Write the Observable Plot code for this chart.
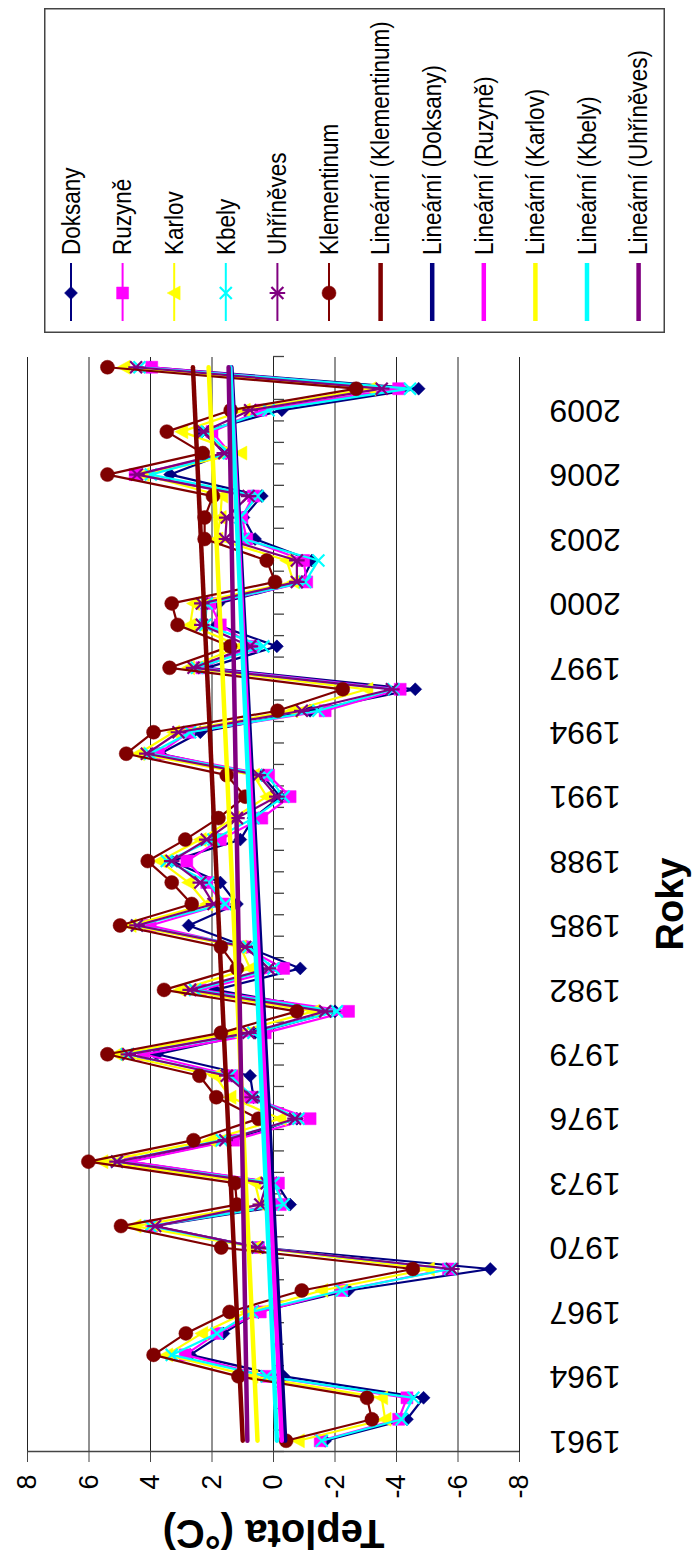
<!DOCTYPE html>
<html>
<head>
<meta charset="utf-8">
<script src="https://cdn.jsdelivr.net/npm/d3@7"></script>
<script src="https://cdn.jsdelivr.net/npm/@observablehq/plot@0.6"></script>
<style>
  html, body { margin: 0; padding: 0; background: #fff; width: 692px; height: 1560px; overflow: hidden; }
  #frame {
    position: absolute; left: 0; top: 0; width: 1560px; height: 692px;
    transform-origin: 0 0; transform: translate(0, 1560px) rotate(-90deg);
    background: #fff; font-family: "Liberation Sans", Arial, sans-serif;
  }
  #legend { position: absolute; }
</style>
</head>
<body>
<div id="frame"></div>
<script>
// Years on the category axis
const years = [1961,1962,1963,1964,1965,1966,1967,1968,1969,1970,
  1971,1972,1973,1974,1975,1976,1977,1978,1979,1980,
  1981,1982,1983,1984,1985,1986,1987,1988,1989,1990,
  1991,1992,1993,1994,1995,1996,1997,1998,1999,2000,
  2001,2002,2003,2004,2005,2006,2007,2008,2009,2010,2011];
const yearLabels = [1961,1964,1967,1970,1973,1976,1979,1982,1985,1988,1991,1994,1997,2000,2003,2006,2009];
const tempTicks = [-8,-6,-4,-2,0,2,4,6,8];

// Station temperatures (°C), 1961–2011
const doksany = [-1.68,-4.34,-4.88,-0.33,2.71,1.63,0.49,-2.44,-7.05,0.45,
  3.90,-0.54,-0.10,4.72,1.41,-0.76,0.65,0.76,3.79,0.60,
  -2.00,1.90,-0.87,0.87,2.76,1.19,1.73,3.31,1.08,0.65,
  -0.22,0.38,3.69,2.38,-1.19,-4.61,2.17,-0.11,1.84,1.79,
  -0.92,-1.25,0.60,0.98,0.38,3.36,1.54,2.33,-0.27,-4.72,4.00];
const ruzyne = [-1.52,-4.07,-4.34,0.22,2.87,1.84,0.43,-2.22,-5.69,0.49,
  3.96,-0.22,-0.16,4.66,1.30,-1.19,0.76,1.30,4.23,0.27,
  -2.44,2.38,-0.33,0.98,4.01,1.63,2.17,2.82,1.73,0.38,
  -0.54,0.16,3.74,2.76,-1.68,-4.12,2.33,0.65,1.73,2.06,
  -1.08,-0.98,0.87,1.03,0.65,4.50,1.41,2.00,0.41,-4.07,3.96];
const karlov = [-0.81,-3.63,-3.52,0.70,3.47,2.33,0.87,-1.57,-5.04,0.60,
  4.50,0.43,0.60,5.58,2.06,-0.22,1.41,1.90,5.09,1.30,
  -1.30,3.04,0.76,1.08,4.66,2.17,2.76,3.69,2.38,1.30,
  0.22,0.65,4.39,3.25,-0.60,-3.04,2.76,1.08,2.71,2.60,
  -0.65,-0.43,1.84,1.73,1.68,4.23,1.06,2.98,0.95,-3.14,4.86];
const kbely = [-1.57,-4.17,-4.55,0.22,3.31,1.84,0.70,-2.22,-5.75,0.50,
  4.01,-0.33,0.00,5.09,1.68,-0.81,0.65,1.41,4.77,0.65,
  -2.06,2.55,0.00,0.81,4.44,1.57,2.11,3.47,1.95,0.65,
  -0.33,0.22,4.01,2.71,-1.46,-3.90,2.49,0.33,2.22,2.17,
  -1.03,-1.46,0.98,1.08,0.52,3.99,1.46,2.17,0.16,-4.44,4.36];
const uhrineves = [null,null,null,null,null,null,null,null,-5.80,0.52,
  3.85,0.43,0.22,5.09,1.57,-0.70,0.70,1.52,4.72,0.81,
  -1.68,2.71,0.16,0.92,4.44,1.95,2.38,3.31,2.17,1.19,
  -0.11,0.49,4.12,3.09,-0.92,-3.85,2.60,0.76,2.33,2.33,
  -0.76,-0.76,1.57,1.52,0.81,4.44,1.60,2.28,0.76,-3.52,4.47];
const klementinum = [-0.41,-3.20,-3.04,1.14,3.90,2.85,1.43,-0.92,-4.53,1.70,
  4.96,1.19,1.25,6.02,2.60,0.49,1.86,2.41,5.40,1.71,
  -0.76,3.56,1.19,1.71,4.99,2.66,3.31,4.09,2.87,1.79,
  0.92,1.52,4.79,3.90,-0.13,-2.25,3.38,1.41,3.12,3.31,
  -0.05,0.22,2.24,2.24,1.97,5.40,2.30,3.47,1.39,-2.69,5.40];

// Linear trend lines: values at the first and last year
const trendYears = [1961, 2011];
const trendKlementinum = [1.00, 2.62];
const trendDoksany = [-0.38, 1.37];
const trendRuzyne = [-0.27, 1.40];
const trendKarlov = [0.52, 2.11];
const trendKbely = [-0.11, 1.41];
const trendUhrineves = [0.85, 1.46];

// Marker shapes drawn like spreadsheet markers
const rOf = size => Math.sqrt(size / Math.PI);
const diamond = {draw(c, s) { const r = rOf(s); c.moveTo(0,-r); c.lineTo(r,0); c.lineTo(0,r); c.lineTo(-r,0); c.closePath(); }};
const square = {draw(c, s) { const r = rOf(s); c.rect(-r,-r,2*r,2*r); }};
const triangle = {draw(c, s) { const r = rOf(s); c.moveTo(0,-r); c.lineTo(r,r*0.85); c.lineTo(-r,r*0.85); c.closePath(); }};
const cross = {draw(c, s) { const r = rOf(s); c.moveTo(-r,-r); c.lineTo(r,r); c.moveTo(-r,r); c.lineTo(r,-r); }};
const star = {draw(c, s) { const r = rOf(s); c.moveTo(-r,-r); c.lineTo(r,r); c.moveTo(-r,r); c.lineTo(r,-r); c.moveTo(0,-r*1.3); c.lineTo(0,r*1.3); }};
const circle = {draw(c, s) { const r = rOf(s); c.moveTo(r,0); c.arc(0,0,r,0,2*Math.PI); }};

const stations = [
  {name: "Doksany", values: doksany, color: "#000080", symbol: diamond, r: 6.5, filled: true},
  {name: "Ruzyně", values: ruzyne, color: "#FF00FF", symbol: square, r: 6, filled: true},
  {name: "Karlov", values: karlov, color: "#FFFF00", symbol: triangle, r: 7, filled: true},
  {name: "Kbely", values: kbely, color: "#00FFFF", symbol: cross, r: 6, filled: false},
  {name: "Uhříněves", values: uhrineves, color: "#800080", symbol: star, r: 6, filled: false},
  {name: "Klementinum", values: klementinum, color: "#800000", symbol: circle, r: 7, filled: true}
];
const trends = [
  {name: "Lineární (Klementinum)", values: trendKlementinum, color: "#800000"},
  {name: "Lineární (Doksany)", values: trendDoksany, color: "#000080"},
  {name: "Lineární (Ruzyně)", values: trendRuzyne, color: "#FF00FF"},
  {name: "Lineární (Karlov)", values: trendKarlov, color: "#FFFF00"},
  {name: "Lineární (Kbely)", values: trendKbely, color: "#00FFFF"},
  {name: "Lineární (Uhříněves)", values: trendUhrineves, color: "#800080"}
];

const W = 1560, H = 692;
const margin = {left: 108, right: 357, top: 27, bottom: 173};
const xDomain = [years[0] - 0.5, years[years.length - 1] + 0.5];
const boundaries = years.map(y => y - 0.5).concat([xDomain[1]]);

const marks = [
  Plot.gridY(tempTicks, {stroke: "#222", strokeOpacity: 1, strokeWidth: 1}),
  Plot.ruleX([xDomain[0]], {stroke: "#444", strokeWidth: 1.3}),
  Plot.ruleX(boundaries, {y1: 0, y2: 0, insetBottom: -11, stroke: "#444", strokeWidth: 1.3}),
  Plot.axisY(tempTicks, {tickSize: 10, tickPadding: 13, tickFormat: d => String(d), fontSize: 27, label: null, stroke: "#444"}),
  Plot.axisX(yearLabels, {anchor: "bottom", tickSize: 0, tickRotate: -90, tickPadding: 30, fontSize: 32, label: null, tickFormat: d => String(d)}),
  Plot.text(["Teplota (°C)"], {frameAnchor: "left", textAnchor: "middle", rotate: -90, dx: -81, fontSize: 40, fontWeight: "bold", fill: "#000"}),
  Plot.text(["Roky"], {frameAnchor: "bottom", dy: 163, fontSize: 38, fontWeight: "bold", fill: "#000"})
];

for (const s of stations) {
  const rows = years.map((year, i) => ({year, temp: s.values[i]}));
  marks.push(Plot.line(rows, {x: "year", y: "temp", stroke: s.color, strokeWidth: 2.2, defined: d => d.temp != null}));
  marks.push(Plot.dot(rows.filter(d => d.temp != null), {
    x: "year", y: "temp", symbol: s.symbol, r: s.r,
    fill: s.filled ? s.color : "none", stroke: s.color, strokeWidth: s.filled ? 0.5 : 2.2
  }));
}
for (const t of trends) {
  const rows = trendYears.map((year, i) => ({year, temp: t.values[i]}));
  marks.push(Plot.line(rows, {x: "year", y: "temp", stroke: t.color, strokeWidth: 4.5}));
}

const chart = Plot.plot({
  width: W, height: H,
  marginLeft: margin.left, marginRight: margin.right, marginTop: margin.top, marginBottom: margin.bottom,
  x: {type: "linear", domain: xDomain, axis: null},
  y: {domain: [-8, 8], axis: null},
  style: {fontFamily: "'Liberation Sans', Arial, sans-serif", color: "#000", background: "#fff", overflow: "visible"},
  marks
});
const frame = document.getElementById("frame");
frame.appendChild(chart);

// Legend box with one row per series and trend line
const legendBox = {x: 1227, y: 44, w: 325, h: 621};
const rowStep = 51.6, firstRow = 27;
const svgL = d3.select(frame).append("svg")
  .attr("id", "legend")
  .attr("width", legendBox.w).attr("height", legendBox.h)
  .style("left", legendBox.x + "px").style("top", legendBox.y + "px")
  .style("font-family", "'Liberation Sans', Arial, sans-serif");
svgL.append("rect").attr("x", 0.75).attr("y", 0.75)
  .attr("width", legendBox.w - 1.5).attr("height", legendBox.h - 1.5)
  .attr("fill", "#fff").attr("stroke", "#444").attr("stroke-width", 1.5);
const entries = stations.map(s => ({...s, trend: false})).concat(trends.map(t => ({...t, trend: true})));
entries.forEach((e, i) => {
  const g = svgL.append("g").attr("transform", `translate(0,${firstRow + i * rowStep})`);
  g.append("line").attr("x1", 12).attr("x2", 70).attr("y1", 0).attr("y2", 0)
    .attr("stroke", e.color).attr("stroke-width", e.trend ? 4.5 : 2);
  if (!e.trend) {
    g.append("path").attr("transform", "translate(40,0)")
      .attr("d", d3.symbol(e.symbol, Math.PI * e.r * e.r)())
      .attr("fill", e.filled ? e.color : "none").attr("stroke", e.color)
      .attr("stroke-width", e.filled ? 0.5 : 2.2);
  }
  // slightly condensed legend lettering
  g.append("text").attr("transform", "translate(78,0) scale(0.9,1)")
    .attr("dy", "0.35em").attr("font-size", 25).text(e.name);
});
</script>
</body>
</html>
